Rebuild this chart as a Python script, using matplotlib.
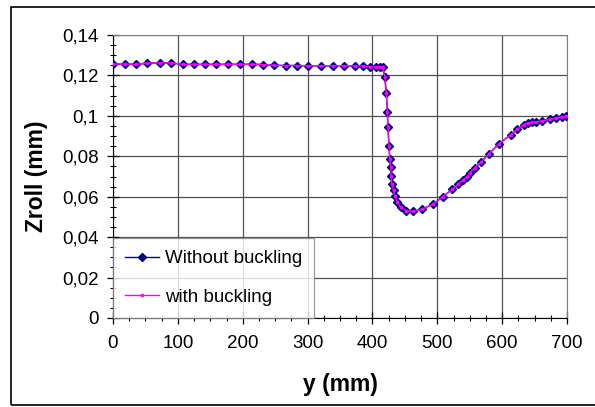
import matplotlib
matplotlib.use('Agg')
import matplotlib.pyplot as plt
from matplotlib.ticker import MultipleLocator, FuncFormatter
from matplotlib.patches import Rectangle

plt.rcParams['font.family'] = ['Liberation Sans', 'DejaVu Sans']

# y position (mm) and Zroll (mm)
y_mm = [0, 18, 36, 53, 72, 89, 108, 125, 142, 159, 177, 196, 214, 231, 248,
        266, 283, 301, 320, 339, 356, 373, 386, 396, 405, 412, 416, 419,
        421.5, 423, 424, 425.5, 426.8, 428.3, 428.8, 429.9, 432.5, 434.5,
        438, 443.3, 452.5, 462.7, 476.6, 493.5, 509, 522.8, 532.6, 539.8,
        546, 550, 557.8, 568, 579.8, 595.3, 613.3, 623.6, 633.3, 640,
        645.6, 651.8, 661.5, 673.3, 682.6, 691.8, 699]
zroll_no_buckling = [0.1256, 0.1256, 0.1255, 0.1261, 0.1262, 0.1262, 0.1255,
                     0.1255, 0.1255, 0.1255, 0.1255, 0.1255, 0.1255, 0.1254,
                     0.1250, 0.1249, 0.1249, 0.1248, 0.1248, 0.1248, 0.1248,
                     0.1248, 0.1246, 0.1243, 0.1243, 0.1243, 0.1240, 0.1193,
                     0.1112, 0.1019, 0.0943, 0.0851, 0.0788, 0.0745, 0.0702,
                     0.0664, 0.0631, 0.0602, 0.0576, 0.0548, 0.0531, 0.0527,
                     0.0538, 0.0563, 0.0601, 0.0636, 0.0662, 0.0685, 0.0699,
                     0.0717, 0.0743, 0.0773, 0.0813, 0.0862, 0.0907, 0.0933,
                     0.0957, 0.0965, 0.0968, 0.0970, 0.0975, 0.0983, 0.0988,
                     0.0995, 0.1000]
zroll_buckling = list(zroll_no_buckling)

fig = plt.figure(figsize=(5.95, 4.07), dpi=100)
ax = fig.add_axes([113 / 595, 1 - 318 / 407, (567 - 113) / 595, (318 - 35) / 407])

fig.patches.append(Rectangle((11 / 595, 1 - 405 / 407), 1.2, (405 - 7) / 407,
                             transform=fig.transFigure, fill=False,
                             edgecolor='black', linewidth=1.2))

ax.plot(y_mm, zroll_no_buckling, color='#000080', marker='D', markersize=4.5,
        markeredgecolor='#000080', markerfacecolor='#000080', linewidth=1,
        label='Without buckling', zorder=3)
ax.plot(y_mm, zroll_buckling, color='#ff00ff', marker='s', markersize=2,
        linewidth=1, label='with buckling', zorder=4)

ax.set_xlim(0, 700)
ax.set_ylim(0, 0.14)
ax.xaxis.set_major_locator(MultipleLocator(100))
ax.xaxis.set_minor_locator(MultipleLocator(25))
ax.yaxis.set_major_locator(MultipleLocator(0.02))
ax.yaxis.set_minor_locator(MultipleLocator(0.005))
ax.yaxis.set_major_formatter(FuncFormatter(lambda v, p: ('%g' % round(v, 3)).replace('.', ',')))

ax.grid(True, which='major', color='#505050', linewidth=0.9)
ax.set_axisbelow(True)
ax.tick_params(which='major', direction='inout', length=9, width=0.9, labelsize=13.5)
ax.tick_params(axis='x', which='major', pad=8)
ax.tick_params(axis='y', which='major', pad=6)
ax.tick_params(which='minor', direction='inout', length=5, width=0.8)
for s in ['top', 'right']:
    ax.spines[s].set_color('#808080')
for s in ['left', 'bottom']:
    ax.spines[s].set_color('black')

ax.set_xlabel('y (mm)', fontsize=16.5, fontweight='bold', va='center')
ax.set_ylabel('Zroll (mm)', fontsize=16.5, fontweight='bold', va='center')
ax.xaxis.set_label_coords(0.5, (318 - 385) / 283)
ax.yaxis.set_label_coords((37 - 113) / 454, 0.5)

leg = ax.legend(loc='lower left', fontsize=13.5, frameon=True, fancybox=False,
                edgecolor='#808080', borderaxespad=0, handlelength=1.8,
                handletextpad=0.3, labelspacing=1.15, borderpad=0.65)
leg.get_frame().set_linewidth(0.9)

fig.savefig('out.png', dpi=100)
